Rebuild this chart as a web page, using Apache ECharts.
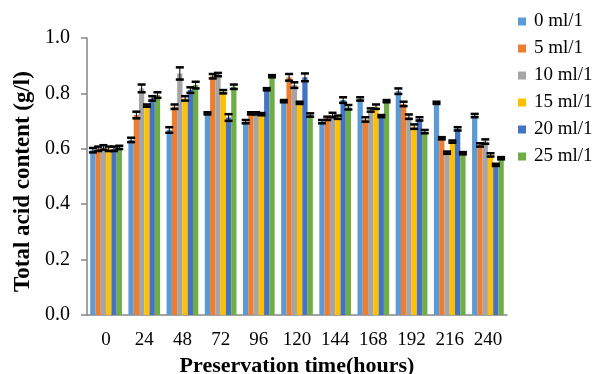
<!DOCTYPE html>
<html>
<head>
<meta charset="utf-8">
<script src="https://cdn.jsdelivr.net/npm/echarts@6/dist/echarts.min.js"></script>
<style>
  html, body { margin: 0; padding: 0; background: #fff; }
  #chart { width: 600px; height: 374px; }
</style>
</head>
<body>
<div id="chart"></div>
<script>
// preservation time (hours)
const hours = ['0', '24', '48', '72', '96', '120', '144', '168', '192', '216', '240'];
const seriesNames = ['0 ml/1', '5 ml/1', '10 ml/1', '15 ml/1', '20 ml/1', '25 ml/1'];
const colors = ['#5B9BD5', '#ED7D31', '#A5A5A5', '#FFC000', '#4472C4', '#70AD47'];

// total acid content (g/l)
const dose0 = [0.595, 0.632, 0.668, 0.728, 0.698, 0.772, 0.698, 0.780, 0.808, 0.766, 0.720];
const dose5 = [0.600, 0.722, 0.752, 0.862, 0.728, 0.858, 0.710, 0.706, 0.762, 0.638, 0.614];
const dose10 = [0.605, 0.818, 0.872, 0.868, 0.728, 0.830, 0.722, 0.740, 0.716, 0.586, 0.626];
const dose15 = [0.600, 0.756, 0.782, 0.806, 0.725, 0.766, 0.714, 0.752, 0.680, 0.626, 0.578];
const dose20 = [0.600, 0.782, 0.812, 0.713, 0.815, 0.858, 0.776, 0.718, 0.708, 0.672, 0.542];
const dose25 = [0.605, 0.794, 0.830, 0.824, 0.862, 0.722, 0.750, 0.772, 0.662, 0.584, 0.566];

// standard errors
const err0 = [0.008, 0.008, 0.010, 0.004, 0.006, 0.004, 0.006, 0.006, 0.010, 0.004, 0.006];
const err5 = [0.008, 0.012, 0.008, 0.008, 0.004, 0.012, 0.006, 0.008, 0.008, 0.004, 0.006];
const err10 = [0.008, 0.014, 0.022, 0.006, 0.004, 0.010, 0.008, 0.006, 0.008, 0.004, 0.008];
const err15 = [0.008, 0.004, 0.008, 0.006, 0.004, 0.004, 0.006, 0.008, 0.008, 0.004, 0.006];
const err20 = [0.008, 0.008, 0.010, 0.012, 0.004, 0.014, 0.010, 0.004, 0.006, 0.006, 0.004];
const err25 = [0.006, 0.010, 0.012, 0.008, 0.004, 0.006, 0.008, 0.004, 0.006, 0.004, 0.004];

const values = [dose0, dose5, dose10, dose15, dose20, dose25];
const errors = [err0, err5, err10, err15, err20, err25];

const chart = echarts.init(document.getElementById('chart'));

const catGap = 0.17;
const nBars = values.length;
const axisColor = '#868686';

const barSeries = values.map((vals, i) => ({
  name: seriesNames[i],
  type: 'bar',
  data: vals,
  barGap: '0%',
  barCategoryGap: (catGap * 100) + '%',
  itemStyle: { color: colors[i] },
  z: 2,
}));

const errData = [];
values.forEach((vals, s) => {
  vals.forEach((v, c) => {
    errData.push([c, v, errors[s][c], s]);
  });
});

// error bars drawn over each bar
const errSeries = {
  type: 'custom',
  name: 'err',
  data: errData,
  z: 5,
  silent: true,
  encode: { x: 0, y: 1 },
  renderItem: (params, api) => {
    const c = api.value(0);
    const v = api.value(1);
    const e = api.value(2);
    const s = api.value(3);
    const band = api.size([1, 0])[0];
    const total = band * (1 - catGap);
    const bw = total / nBars;
    const center = api.coord([c, v])[0];
    const x = center - total / 2 + (s + 0.5) * bw;
    const yHi = api.coord([c, v + e])[1];
    const yLo = api.coord([c, v - e])[1];
    const cap = 4;
    const style = { stroke: '#000', lineWidth: 2.5 };
    return {
      type: 'group',
      children: [
        { type: 'line', shape: { x1: x, y1: yHi, x2: x, y2: yLo }, style: { stroke: '#000', lineWidth: 1 } },
        { type: 'line', shape: { x1: x - cap, y1: yHi, x2: x + cap, y2: yHi }, style },
        { type: 'line', shape: { x1: x - cap, y1: yLo, x2: x + cap, y2: yLo }, style },
      ],
    };
  },
};

const option = {
  animation: false,
  textStyle: { fontFamily: 'Liberation Serif' },
  legend: {
    data: seriesNames,
    orient: 'vertical',
    left: 513,
    top: 7,
    itemWidth: 8,
    itemHeight: 8,
    itemGap: 8,
    icon: 'rect',
    textStyle: { fontFamily: 'Liberation Serif', fontSize: 19, color: '#000', padding: [0, 0, 0, 3] },
  },
  grid: { left: 87, right: 93, top: 38, bottom: 59, outerBoundsMode: 'none', containLabel: false },
  xAxis: {
    type: 'category',
    data: hours,
    name: 'Preservation time(hours)',
    nameLocation: 'middle',
    nameGap: 40,
    nameTextStyle: { fontFamily: 'Liberation Serif', fontSize: 22, fontWeight: 'bold', color: '#000' },
    axisLine: { lineStyle: { color: axisColor, width: 1.5 } },
    axisTick: { length: 6, lineStyle: { color: axisColor, width: 1.5 } },
    axisLabel: { fontFamily: 'Liberation Serif', fontSize: 19, color: '#000', margin: 16 },
  },
  yAxis: {
    type: 'value',
    min: 0,
    max: 1,
    interval: 0.2,
    name: 'Total acid content (g/l)',
    nameLocation: 'middle',
    nameGap: 52,
    nameTextStyle: {
      fontFamily: 'Liberation Serif',
      fontSize: 23,
      fontWeight: 'bold',
      color: '#000',
      padding: [0, 10, 0, 0],
    },
    axisLine: { show: true, lineStyle: { color: axisColor, width: 1.5 } },
    axisTick: { show: true, length: 6, lineStyle: { color: axisColor, width: 1.5 } },
    splitLine: { show: false },
    axisLabel: {
      fontFamily: 'Liberation Serif',
      fontSize: 20,
      color: '#000',
      margin: 17,
      formatter: (v) => v.toFixed(1),
    },
  },
  series: [...barSeries, errSeries],
};

chart.setOption(option);
</script>
</body>
</html>
